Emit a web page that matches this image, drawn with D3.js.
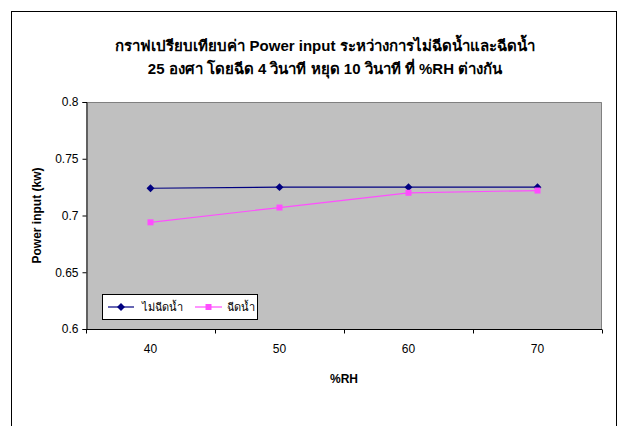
<!DOCTYPE html>
<html>
<head>
<meta charset="utf-8">
<script src="https://cdn.jsdelivr.net/npm/d3@7"></script>
<style>
  html, body { margin: 0; padding: 0; background: #fff; }
  svg { display: block; }
  text { font-family: "Liberation Sans", Arial, sans-serif; }
</style>
</head>
<body>
<script>
// Relative humidity levels (category axis)
const categories = ["40", "50", "60", "70"];
// Power input (kW) without water spray
const noSpray = [0.724, 0.725, 0.725, 0.725];
// Power input (kW) with water spray
const spray = [0.694, 0.707, 0.720, 0.722];
// Value axis ticks
const yTicks = [0.6, 0.65, 0.7, 0.75, 0.8];

const seriesNames = ["ไม่ฉีดน้ำ", "ฉีดน้ำ"];
const titleLines = [
  "กราฟเปรียบเทียบค่า Power input ระหว่างการไม่ฉีดน้ำและฉีดน้ำ",
  "25 องศา โดยฉีด 4 วินาที หยุด 10 วินาที ที่ %RH ต่างกัน"
];

const W = 624, H = 426;
const plot = { left: 86, top: 102, right: 602, bottom: 329 };

const svg = d3.select("body").append("svg")
  .attr("width", W).attr("height", H);

// chart frame
svg.append("rect")
  .attr("x", 11.5).attr("y", 11.5)
  .attr("width", 605).attr("height", 430)
  .attr("fill", "#fff").attr("stroke", "#000").attr("stroke-width", 1);

const x = d3.scaleBand().domain(categories).range([plot.left, plot.right]);
const y = d3.scaleLinear().domain([0.6, 0.8]).range([plot.bottom, plot.top]);

// plot area
svg.append("rect")
  .attr("x", plot.left).attr("y", plot.top)
  .attr("width", plot.right - plot.left).attr("height", plot.bottom - plot.top)
  .attr("fill", "#c0c0c0");
svg.append("path")
  .attr("d", `M${plot.left},${plot.top + 0.5}H${plot.right - 0.5}V${plot.bottom}`)
  .attr("fill", "none").attr("stroke", "#808080").attr("stroke-width", 1);

// title
svg.append("g").selectAll("text").data(titleLines).join("text")
  .attr("x", 325).attr("y", (d, i) => 51 + i * 23)
  .attr("text-anchor", "middle")
  .attr("font-size", 15).attr("font-weight", "bold")
  .attr("fill", "#000")
  .text(d => d);

// y axis
const yAxis = d3.axisLeft(y).tickValues(yTicks).tickSize(4).tickPadding(4)
  .tickFormat(d => String(d));
const gy = svg.append("g")
  .attr("transform", `translate(${plot.left + 0.5},0)`)
  .call(yAxis);
gy.select(".domain").attr("stroke", "#000");
gy.selectAll(".tick line").attr("stroke", "#000");
gy.selectAll("text").attr("font-size", 12).attr("fill", "#000")
  .attr("font-family", "\"Liberation Sans\", Arial, sans-serif");

// x axis: ticks sit on category boundaries, labels at category centres
const gx = svg.append("g")
  .attr("transform", `translate(0,${plot.bottom + 0.5})`);
gx.append("line")
  .attr("x1", plot.left).attr("x2", plot.right)
  .attr("stroke", "#000");
const bounds = categories.map(c => x(c)).concat([x(categories[categories.length - 1]) + x.bandwidth()]);
gx.selectAll("line.tk").data(bounds).join("line")
  .attr("class", "tk")
  .attr("x1", d => Math.round(d) + 0.5).attr("x2", d => Math.round(d) + 0.5)
  .attr("y1", 0).attr("y2", 4)
  .attr("stroke", "#000");
gx.selectAll("text").data(categories).join("text")
  .attr("x", d => x(d) + x.bandwidth() / 2)
  .attr("y", 23)
  .attr("text-anchor", "middle")
  .attr("font-size", 12).attr("fill", "#000")
  .text(d => d);

// axis titles
svg.append("text")
  .attr("x", plot.left + (plot.right - plot.left) / 2).attr("y", 383)
  .attr("text-anchor", "middle")
  .attr("font-size", 12).attr("font-weight", "bold")
  .text("%RH");
svg.append("text")
  .attr("transform", `translate(41,${(plot.top + plot.bottom) / 2}) rotate(-90)`)
  .attr("text-anchor", "middle")
  .attr("font-size", 12).attr("font-weight", "bold")
  .text("Power input (kw)");

// series
const cx = c => x(c) + x.bandwidth() / 2;
const line = d3.line().x(d => cx(d.c)).y(d => y(d.v));
const series = [
  { name: seriesNames[0], values: noSpray, color: "#000080", marker: d3.symbolDiamond2, size: 40 },
  { name: seriesNames[1], values: spray, color: "#ff4dff", marker: d3.symbolSquare, size: 36 }
];

series.forEach(s => {
  const pts = categories.map((c, i) => ({ c, v: s.values[i] }));
  svg.append("path")
    .attr("d", line(pts))
    .attr("fill", "none").attr("stroke", s.color).attr("stroke-width", 1.2);
  svg.append("g").selectAll("path").data(pts).join("path")
    .attr("transform", d => `translate(${cx(d.c)},${y(d.v)})`)
    .attr("d", d3.symbol(s.marker, s.size))
    .attr("fill", s.color);
});

// legend
const lg = svg.append("g");
lg.append("rect")
  .attr("x", 102.5).attr("y", 294.5).attr("width", 155).attr("height", 25)
  .attr("fill", "#fff").attr("stroke", "#000");
const legendItems = [
  { s: series[0], x0: 108, x1: 134, tx: 142 },
  { s: series[1], x0: 195, x1: 222, tx: 227 }
];
legendItems.forEach(it => {
  lg.append("line")
    .attr("x1", it.x0).attr("x2", it.x1).attr("y1", 307).attr("y2", 307)
    .attr("stroke", it.s.color).attr("stroke-width", 1.2);
  lg.append("path")
    .attr("transform", `translate(${(it.x0 + it.x1) / 2},307)`)
    .attr("d", d3.symbol(it.s.marker, it.s.size))
    .attr("fill", it.s.color);
  lg.append("text")
    .attr("x", it.tx).attr("y", 311)
    .attr("font-size", 11).attr("fill", "#000")
    .text(it.s.name);
});
</script>
</body>
</html>
